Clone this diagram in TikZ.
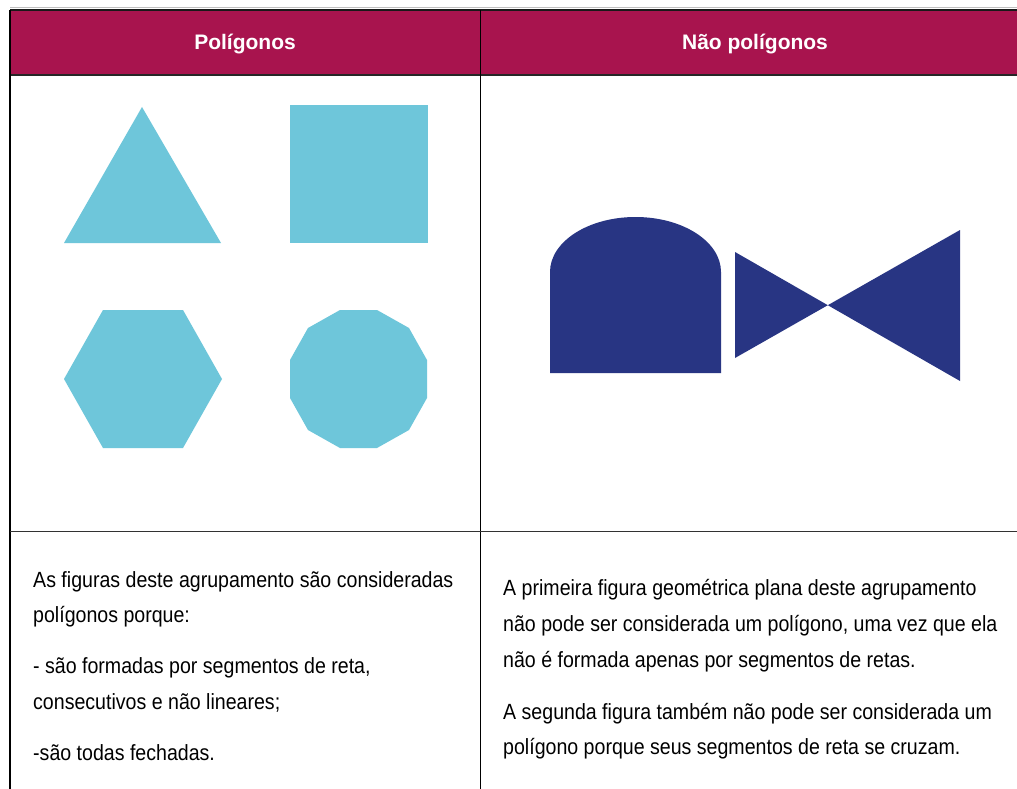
\documentclass[tikz,border=0pt]{standalone}
\usepackage{fontspec}
\setmainfont{Liberation Sans}
\newfontfamily\bodyfont[FakeStretch=0.89]{Liberation Sans}
\definecolor{headmag}{RGB}{168,20,78}
\definecolor{polyblue}{RGB}{110,198,218}
\definecolor{navyfig}{RGB}{40,53,131}
\definecolor{rulegray}{RGB}{50,50,50}
\begin{document}
\begin{tikzpicture}[x=1pt,y=-1pt,
  headtxt/.style={text=white,font=\fontsize{21}{25}\selectfont\bfseries,inner sep=0pt,anchor=base},
  bodytxt/.style={font=\bodyfont\fontsize{22}{26}\selectfont,inner sep=0pt,anchor=base west,text=black},
  rule/.style={draw=rulegray,line width=1.2pt}]
\useasboundingbox (0,0) rectangle (1017,789);
\fill[white] (0,0) rectangle (1017,789);
% header
\fill[headmag] (10,10) rectangle (1017,75);
\draw[gray!50,line width=1pt] (10,8) -- (1017,8);
\draw[rule,draw=black!90] (10,10) -- (1017,10);
\draw[rule,draw=black!85,line width=2pt] (10,75) -- (1017,75);
\draw[rule,draw=black] (10,10) -- (10,789);
\draw[rule,draw=black] (480.5,10) -- (480.5,789);
\draw[rule] (10,531.5) -- (1017,531.5);
\node[headtxt] (h1) at (245,50) {Polígonos};
\node[headtxt] (h2) at (755,50) {Não polígonos};
% polygons
\fill[polyblue] (64,243) -- (142,107) -- (221,243) -- cycle;
\fill[polyblue] (290,105) rectangle (428,243);
\fill[polyblue] (64,379) -- (103,310) -- (183,310) -- (222,379) -- (183,448) -- (103,448) -- cycle;
\fill[polyblue] (340,310) -- (377,310) -- (409,328) -- (427,360) -- (427,398) -- (409,430) -- (377,448) -- (340,448) -- (308,430) -- (290,398) -- (290,360) -- (308,328) -- cycle;
% non polygons
\fill[navyfig] (550,373) -- (550,272) .. controls (550,241.6) and (588.3,217) .. (635.5,217) .. controls (682.7,217) and (721,241.6) .. (721,272) -- (721,373) -- cycle;
\fill[navyfig] (735,252) -- (960,381) -- (960,230) -- (735,358) -- cycle;
% texts left
\node[bodytxt] (l1) at (33,587) {As figuras deste agrupamento são consideradas};
\node[bodytxt] (l2) at (33,622) {polígonos porque:};
\node[bodytxt] (l3) at (33,673) {- são formadas por segmentos de reta,};
\node[bodytxt] (l4) at (33,709) {consecutivos e não lineares;};
\node[bodytxt] (l5) at (33,760) {-são todas fechadas.};
% texts right
\node[bodytxt] (r1) at (503,595) {A primeira figura geométrica plana deste agrupamento};
\node[bodytxt] (r2) at (503,631) {não pode ser considerada um polígono, uma vez que ela};
\node[bodytxt] (r3) at (503,667) {não é formada apenas por segmentos de retas.};
\node[bodytxt] (r4) at (503,719) {A segunda figura também não pode ser considerada um};
\node[bodytxt] (r5) at (503,754) {polígono porque seus segmentos de reta se cruzam.};
\end{tikzpicture}
\end{document}
